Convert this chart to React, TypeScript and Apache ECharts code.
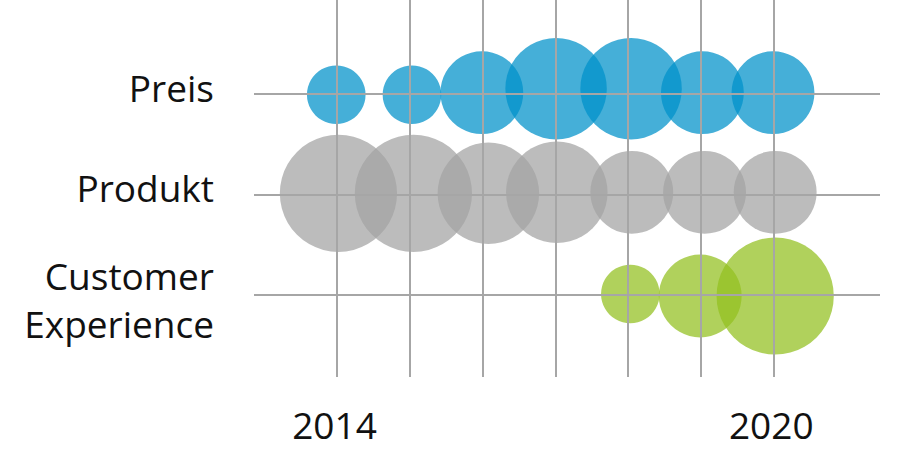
import * as echarts from 'echarts';
import { useEffect, useRef } from 'react';

// rows from top to bottom, y value 2 = Preis, 1 = Produkt, 0 = Customer Experience
const rowNames = ['Customer\nExperience', 'Produkt', 'Preis'];
const rowValues = [0, 1, 2];
// where each row label sits (text is set a little off its grid line in the picture)
const rowLabelAt = [-0.045, 1.065, 2.06];
const years = [2014, 2015, 2016, 2017, 2018, 2019, 2020];
const xTickLabels = [2014, 2020];

// bubble centres (slightly jittered around year / row)
const preisX = [2013.99, 2015.03, 2015.99, 2017.01, 2018.04, 2019.02, 2019.99];
const preisY = [1.99, 1.99, 2.01, 2.05, 2.05, 2.01, 2.01];
const preisSize = [1, 1, 2, 3, 3, 2, 2];

const produktX = [2014.02, 2015.05, 2016.08, 2017.02, 2018.05, 2019.05, 2020.02];
const produktY = [1.01, 1.01, 1.01, 1.02, 1.02, 1.02, 1.02];
const produktSize = [4, 4, 3, 3, 2, 2, 2];

const cxX = [2018.03, 2018.99, 2020.02];
const cxY = [0.01, -0.01, -0.01];
const cxSize = [1, 2, 4];

const FONT = '"Open Sans", "Noto Sans", sans-serif';
const GRID_COLOR = '#a6a6a6';

function points(xs: number[], ys: number[], sizes: number[]) {
  return xs.map((x, i) => [x, ys[i], sizes[i]]);
}

function bubbleSeries(name: string, data: number[][], color: string) {
  return {
    type: 'scatter',
    name,
    z: 3,
    data,
    symbol: 'circle',
    symbolSize: (v: number[]) => 58.6 * Math.sqrt(v[2]),
    itemStyle: { color, opacity: 0.73 },
    emphasis: { disabled: true },
    silent: true
  };
}

function rowLabel(v: number) {
  const idx = rowLabelAt.findIndex((p) => Math.abs(p - v) < 1e-6);
  return idx >= 0 ? rowNames[idx] : '';
}

export default function App() {
  const elRef = useRef<HTMLDivElement | null>(null);

  useEffect(() => {
    if (!elRef.current) return;
    const chart = echarts.init(elRef.current, undefined, { renderer: 'svg' });

    chart.setOption({
      animation: false,
      textStyle: { fontFamily: FONT },
      grid: { left: 254, right: 24, top: 0, bottom: 96, containLabel: false },
      xAxis: {
        type: 'value',
        min: 2012.86,
        max: 2021.46,
        axisLine: { show: false },
        axisTick: { show: false },
        splitLine: { show: false },
        axisLabel: {
          customValues: xTickLabels,
          color: '#111',
          fontSize: 37,
          fontFamily: FONT,
          margin: 29,
          padding: [0, 5, 0, 0],
          formatter: (v: number) => String(Math.round(v))
        }
      },
      yAxis: {
        type: 'value',
        min: -0.815,
        max: 2.931,
        axisLine: { show: false },
        axisTick: { show: false },
        splitLine: { show: false },
        axisLabel: {
          customValues: rowLabelAt,
          color: '#111',
          fontSize: 37,
          fontFamily: FONT,
          margin: 40,
          lineHeight: 48,
          align: 'right',
          formatter: rowLabel
        }
      },
      series: [
        {
          type: 'scatter',
          name: 'grid',
          z: 1,
          data: [],
          silent: true,
          markLine: {
            silent: true,
            symbol: 'none',
            label: { show: false },
            lineStyle: { color: GRID_COLOR, width: 2, type: 'solid' },
            emphasis: { disabled: true },
            data: [
              ...years.map((y) => ({ xAxis: y })),
              ...rowValues.map((r) => ({ yAxis: r }))
            ]
          }
        },
        bubbleSeries('Preis', points(preisX, preisY, preisSize), '#0092c9'),
        bubbleSeries('Produkt', points(produktX, produktY, produktSize), '#a3a3a3'),
        bubbleSeries('Customer Experience', points(cxX, cxY, cxSize), '#93c01f')
      ]
    });

    return () => {
      chart.dispose();
    };
  }, []);

  return (
    <div
      ref={elRef}
      style={{ position: 'fixed', left: 0, top: 0, width: 904, height: 473, background: '#fff' }}
    />
  );
}
